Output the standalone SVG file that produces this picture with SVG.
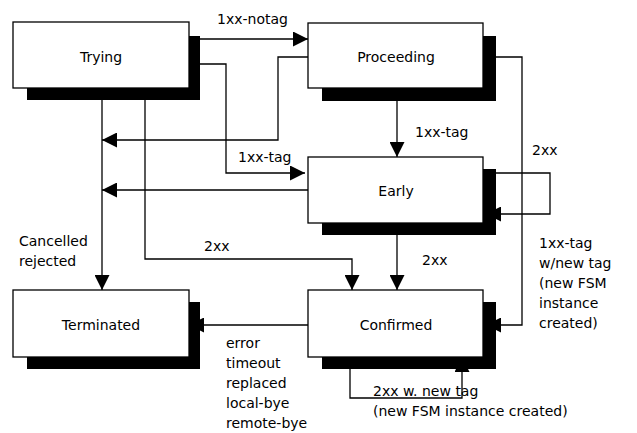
<svg xmlns="http://www.w3.org/2000/svg" width="637" height="433" viewBox="0 0 637 433">
  <style>
    .box { fill: #ffffff; stroke: #000000; stroke-width: 1.3; }
    .shadow { fill: #000000; }
    .edge { fill: none; stroke: #000000; stroke-width: 1.3; marker-end: url(#arrow); }
    text { font-family: "DejaVu Sans", Verdana, sans-serif; font-size: 14px; fill: #000000; }
    .name { text-anchor: middle; }
  </style>
  <defs>
    <marker id="arrow" markerUnits="userSpaceOnUse" markerWidth="15" markerHeight="15" refX="15" refY="7.5" orient="auto">
      <path d="M0,0 L15,7.5 L0,15 z" fill="#000000"/>
    </marker>
  </defs>
  <rect width="637" height="433" fill="#ffffff"/>

  <!-- transitions -->
  <g id="connectors">
    <path class="edge" d="M200,39 H308"/>
    <path class="edge" d="M308,57 H278 V140 H102"/>
    <path class="edge" d="M200,64 H226 V173 H305"/>
    <path class="edge" d="M308,190 H102"/>
    <path class="edge" d="M102,100 V290"/>
    <path class="edge" d="M145,100 V259 H352 V290"/>
    <path class="edge" d="M397,101 V157"/>
    <path class="edge" d="M397,235 V290"/>
    <path class="edge" d="M496,57 H522 V325 H486"/>
    <path class="edge" d="M496,173 H550 V214 H486"/>
    <path class="edge" d="M308,325 H189"/>
    <path class="edge" d="M350,369 V398 H462 V357"/>
  </g>

  <!-- transition labels -->
  <g id="labels">
    <text x="217" y="24">1xx-notag</text>
    <text x="238" y="162">1xx-tag</text>
    <text x="415" y="137">1xx-tag</text>
    <text x="532" y="155">2xx</text>
    <text x="19" y="246">Cancelled</text>
    <text x="19" y="266">rejected</text>
    <text x="204" y="251">2xx</text>
    <text x="422" y="265">2xx</text>
    <text x="539" y="248">1xx-tag</text>
    <text x="539" y="268">w/new tag</text>
    <text x="539" y="288">(new FSM</text>
    <text x="539" y="308">instance</text>
    <text x="539" y="328">created)</text>
    <text x="226" y="348">error</text>
    <text x="226" y="368">timeout</text>
    <text x="226" y="388">replaced</text>
    <text x="226" y="408">local-bye</text>
    <text x="226" y="428">remote-bye</text>
    <text x="373" y="396">2xx w. new tag</text>
    <text x="373" y="416">(new FSM instance created)</text>
  </g>

  <!-- states -->
  <g id="trying">
    <rect class="shadow" x="27" y="36" width="173" height="64"/>
    <rect class="box" x="13" y="22" width="176" height="66"/>
    <text class="name" x="101" y="62">Trying</text>
  </g>
  <g id="proceeding">
    <rect class="shadow" x="322" y="36" width="174" height="65"/>
    <rect class="box" x="308" y="23" width="175" height="65"/>
    <text class="name" x="396" y="62">Proceeding</text>
  </g>
  <g id="early">
    <rect class="shadow" x="322" y="169" width="174" height="66"/>
    <rect class="box" x="308" y="157" width="175" height="66"/>
    <text class="name" x="396" y="196">Early</text>
  </g>
  <g id="confirmed">
    <rect class="shadow" x="322" y="302" width="174" height="67"/>
    <rect class="box" x="308" y="290" width="175" height="67"/>
    <text class="name" x="396" y="330">Confirmed</text>
  </g>
  <g id="terminated">
    <rect class="shadow" x="27" y="302" width="173" height="67"/>
    <rect class="box" x="13" y="290" width="176" height="67"/>
    <text class="name" x="101" y="330">Terminated</text>
  </g>
</svg>
